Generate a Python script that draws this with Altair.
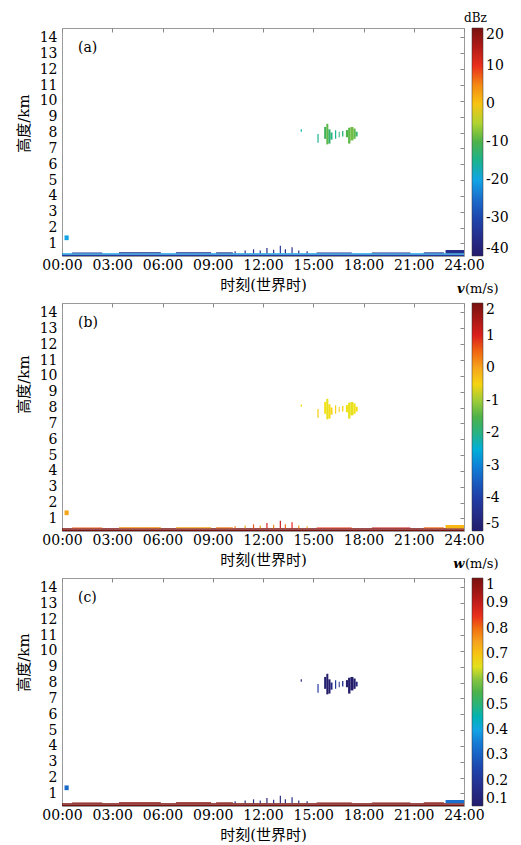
import altair as alt
import pandas as pd

# ---------------- data (time in hours UTC, height in km) ----------------
# ground layer across the whole day
GROUND_T0 = [0.0, 0.0]
GROUND_T1 = [24.0, 24.0]
GROUND_H0 = [0.20, 0.29]
GROUND_H1 = [0.29, 0.37]
GROUND_Z = [-33, -20]
GROUND_V = [2.0, 1.95]
GROUND_W = [1.0, 1.0]

# sparse low-level echoes just above the ground layer
SPECK_T0 = [0.6, 3.4, 6.8, 9.2, 15.2, 18.5, 21.6]
SPECK_T1 = [2.4, 5.9, 8.9, 10.2, 17.3, 20.8, 22.8]
SPECK_H0 = [0.37, 0.37, 0.37, 0.37, 0.37, 0.37, 0.37]
SPECK_H1 = [0.42, 0.43, 0.44, 0.43, 0.42, 0.42, 0.43]
SPECK_Z = [-34, -35, -34, -35, -34, -35, -34]
SPECK_V = [0.6, 0.2, 0.0, 0.4, 0.8, 1.2, 0.5]
SPECK_W = [0.98, 0.97, 0.98, 0.97, 0.98, 0.98, 0.97]

# short spikes 10:00-15:00
SPIKE_T0 = [10.30, 10.90, 11.40, 11.80, 12.20, 12.60, 13.00, 13.30, 13.70, 14.10, 14.60]
SPIKE_T1 = [10.37, 10.97, 11.47, 11.87, 12.27, 12.67, 13.07, 13.37, 13.77, 14.17, 14.67]
SPIKE_H0 = [0.37] * 11
SPIKE_H1 = [0.50, 0.55, 0.62, 0.55, 0.70, 0.60, 0.85, 0.62, 0.75, 0.55, 0.50]
SPIKE_Z = [-36, -35, -36, -34, -36, -35, -33, -36, -35, -36, -35]
SPIKE_V = [0.4, 0.0, 0.6, 0.2, 1.0, 0.3, 1.2, 0.5, 0.9, 0.2, 0.0]
SPIKE_W = [0.15, 0.14, 0.16, 0.15, 0.13, 0.15, 0.14, 0.15, 0.16, 0.15, 0.14]

# thicker low layer 23:00-24:00
END_T0 = [22.9]
END_T1 = [24.0]
END_H0 = [0.37]
END_H1 = [0.58]
END_Z = [-35]
END_V = [-0.2]
END_W = [0.33]

# small echo near 00:10, 1.3 km
DOT_T0 = [0.15]
DOT_T1 = [0.40]
DOT_H0 = [1.20]
DOT_H1 = [1.50]
DOT_Z = [-20]
DOT_V = [0.0]
DOT_W = [0.32]

# cloud at 7-8.5 km, 15:15-17:40
CLOUD_T0 = [15.25, 15.65, 15.78, 15.90, 16.03, 16.30, 16.52, 16.72, 16.95, 17.08, 17.22, 17.40, 17.53, 14.25]
CLOUD_T1 = [15.32, 15.78, 15.90, 16.03, 16.15, 16.37, 16.58, 16.80, 17.08, 17.22, 17.40, 17.53, 17.65, 14.32]
CLOUD_H0 = [7.35, 7.60, 7.25, 7.30, 7.55, 7.60, 7.70, 7.75, 7.70, 7.30, 7.50, 7.60, 7.75, 8.05]
CLOUD_H1 = [7.90, 8.35, 8.55, 8.20, 8.00, 8.15, 8.05, 8.10, 8.15, 8.30, 8.35, 8.25, 8.05, 8.20]
CLOUD_Z = [-15, -11, -9, -12, -14, -15, -14, -13, -10, -9, -8, -9, -12, -16]
CLOUD_V = [-0.4, -0.65, -0.7, -0.6, -0.5, -0.45, -0.4, -0.5, -0.65, -0.7, -0.7, -0.65, -0.55, -0.6]
CLOUD_W = [0.22, 0.12, 0.10, 0.11, 0.15, 0.20, 0.18, 0.17, 0.11, 0.10, 0.10, 0.10, 0.14, 0.15]

XTICKS = [0, 3, 6, 9, 12, 15, 18, 21, 24]
YTICKS = list(range(1, 15))
Z_TICKS = [-40, -30, -20, -10, 0, 10, 20]
V_TICKS = [-5, -4, -3, -2, -1, 0, 1, 2]
W_TICKS = [0.1, 0.2, 0.3, 0.4, 0.5, 0.6, 0.7, 0.8, 0.9, 1.0]

# ---------------- style ----------------
FONT = "DejaVu Serif"
FONT_CJK = "DejaVu Serif, Noto Sans CJK SC"
STOPS = [0.0, 0.15, 0.27, 0.34, 0.42, 0.50, 0.56, 0.62, 0.72, 0.84, 1.0]
COLORS = ["#231c6b", "#1f3ea8", "#1d76d2", "#1aa9e6", "#27b28a", "#4db24a",
          "#8cc63f", "#f2e318", "#f5a21f", "#e8221e", "#78120f"]
W = 402
H = 228
LEG_LABEL = ("datum.value < 0 ? '-' + format(-datum.value, '.1~f') : "
             "format(datum.value, '.1~f')")

T0 = GROUND_T0 + SPECK_T0 + SPIKE_T0 + END_T0 + DOT_T0 + CLOUD_T0
T1 = GROUND_T1 + SPECK_T1 + SPIKE_T1 + END_T1 + DOT_T1 + CLOUD_T1
H0 = GROUND_H0 + SPECK_H0 + SPIKE_H0 + END_H0 + DOT_H0 + CLOUD_H0
H1 = GROUND_H1 + SPECK_H1 + SPIKE_H1 + END_H1 + DOT_H1 + CLOUD_H1
ZV = GROUND_Z + SPECK_Z + SPIKE_Z + END_Z + DOT_Z + CLOUD_Z
VV = GROUND_V + SPECK_V + SPIKE_V + END_V + DOT_V + CLOUD_V
WV = GROUND_W + SPECK_W + SPIKE_W + END_W + DOT_W + CLOUD_W


def panel(vals, lo, hi, leg_vals, tag, unit_sym, unit_rest, ttl_y, unit_y, unit_size):
    df = pd.DataFrame({"t0": T0, "t1": T1, "h0": H0, "h1": H1, "val": vals})
    xs = alt.Scale(domain=[0, 24], nice=False, zero=False)
    ys = alt.Scale(domain=[0.2, 14.6], nice=False, zero=False)
    dom = [lo + s * (hi - lo) for s in STOPS]
    cells = alt.Chart(df).mark_rect().encode(
        x=alt.X("t0:Q", scale=xs,
                axis=alt.Axis(values=XTICKS, title="时刻(世界时)", ticks=False, domain=False,
                              grid=False, labelPadding=2, titlePadding=5,
                              labelFlush=False, labelOverlap=False,
                              labelExpr="(datum.value < 10 ? '0' : '') + datum.value + ':00'")),
        x2="t1:Q",
        y=alt.Y("h0:Q", scale=ys,
                axis=alt.Axis(values=YTICKS, title="高度/km", ticks=False, domain=False,
                              grid=False, labelPadding=5, titlePadding=8, titleY=ttl_y,
                              labelFlush=False, labelOverlap=False)),
        y2="h1:Q",
        color=alt.Color("val:Q",
                        scale=alt.Scale(domain=dom, range=COLORS, clamp=True),
                        legend=alt.Legend(orient="none", legendX=W + 8, legendY=0,
                                          direction="vertical", gradientLength=H,
                                          gradientThickness=11, values=leg_vals,
                                          labelExpr=LEG_LABEL,
                                          labelFont=FONT, labelFontSize=14, labelColor="black",
                                          labelOffset=3, labelOverlap=False, title=None,
                                          gradientStrokeColor="#333", gradientStrokeWidth=0.5)),
    )
    ticks = alt.Chart(df).mark_point(opacity=0).encode(
        x=alt.X("t0:Q", scale=xs,
                axis=alt.Axis(orient="top", values=XTICKS, labels=False, domain=False, grid=False,
                              tickSize=4, offset=-4, tickColor="#888", title=None,
                              minExtent=0, maxExtent=0)),
        y=alt.Y("h0:Q", scale=ys,
                axis=alt.Axis(orient="right", values=YTICKS, labels=False, domain=False, grid=False,
                              tickSize=4, offset=-4, tickColor="#888", title=None,
                              minExtent=0, maxExtent=0)),
    )
    tag_layer = alt.Chart(pd.DataFrame({"s": [tag]})).mark_text(
        font=FONT, fontSize=14, align="left", baseline="middle", color="black"
    ).encode(x=alt.value(16), y=alt.value(20), text="s:N")
    layers = [cells, ticks, tag_layer]
    cx = W + 8 + 5.5
    if unit_sym:
        sym = alt.Chart(pd.DataFrame({"s": [unit_sym]})).mark_text(
            font=FONT, fontSize=unit_size, fontStyle="italic", fontWeight="bold",
            align="right", baseline="middle", color="black"
        ).encode(x=alt.value(cx - 13), y=alt.value(unit_y), text="s:N")
        rest = alt.Chart(pd.DataFrame({"s": [unit_rest]})).mark_text(
            font=FONT, fontSize=unit_size, align="left", baseline="middle", color="black"
        ).encode(x=alt.value(cx - 12.5), y=alt.value(unit_y), text="s:N")
        layers += [sym, rest]
    else:
        rest = alt.Chart(pd.DataFrame({"s": [unit_rest]})).mark_text(
            font=FONT, fontSize=unit_size, align="center", baseline="middle", color="black"
        ).encode(x=alt.value(cx - 2), y=alt.value(unit_y), text="s:N")
        layers += [rest]
    return alt.layer(*layers).resolve_axis(x="independent", y="independent").properties(
        width=W, height=H)


pa = panel(ZV, -40, 20, Z_TICKS, "(a)", "", "dBz", 95, -10, 12)
pb = panel(VV, -5, 2, V_TICKS, "(b)", "v", "(m/s)", 81, -14, 13)
pc = panel(WV, 0.1, 1.0, W_TICKS, "(c)", "w", "(m/s)", 84, -14, 13)

chart = alt.vconcat(pa, pb, pc, spacing=47, bounds="flush").resolve_scale(
    color="independent"
).configure_view(
    stroke="#9a9a9a", strokeWidth=1
).configure_axis(
    labelFont=FONT, labelFontSize=14, labelColor="black",
    titleFont=FONT_CJK, titleFontSize=15, titleFontWeight="normal", titleColor="black"
).properties(
    padding={"left": 7, "top": 3, "right": 0, "bottom": 0}
)

chart.save("out.html", embed_options={"renderer": "svg", "actions": False})
